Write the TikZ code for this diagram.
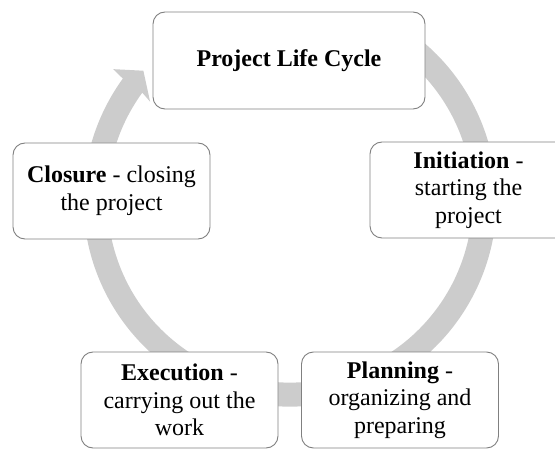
\documentclass[tikz,border=0pt]{standalone}
\usepackage{fontspec}
\setmainfont{Liberation Serif}
\usepackage{tikz}

\begin{document}
\begin{tikzpicture}[x=1pt,y=1pt,
    stage/.style={draw={rgb,255:red,128;green,128;blue,128},line width=0.9pt,fill=white,
      rounded corners=12pt,align=center,inner sep=0pt,
      minimum width=197pt,minimum height=96pt,
      font=\fontsize{24}{27.6}\selectfont}]
          \clip (0,0) rectangle (555,448);
          \begin{scope}[shift={(290,248)}]
            \fill[black!20] (62:206.6) arc[start angle=62,end angle=-216,radius=206.6]
              -- (-216.5:220) -- (-221.4:195.5) -- (-215.1:171)
              -- (-216:182.6) arc[start angle=-216,end angle=62,radius=182.6] -- cycle;
          \end{scope}
          \node[stage,minimum width=272pt,minimum height=97pt] (plc) at (289,387.5) {\textbf{Project Life Cycle}};
          \node[stage] (init) at (468.5,258) {\textbf{Initiation} -\\starting the\\project};
          \node[stage] (plan) at (400,48) {\textbf{Planning} -\\organizing and\\preparing};
          \node[stage] (exec) at (179.5,48) {\textbf{Execution} -\\carrying out the\\work};
          \node[stage] (clos) at (111.5,257) {\textbf{Closure} - closing\\the project};
        \end{tikzpicture}
\end{document}
